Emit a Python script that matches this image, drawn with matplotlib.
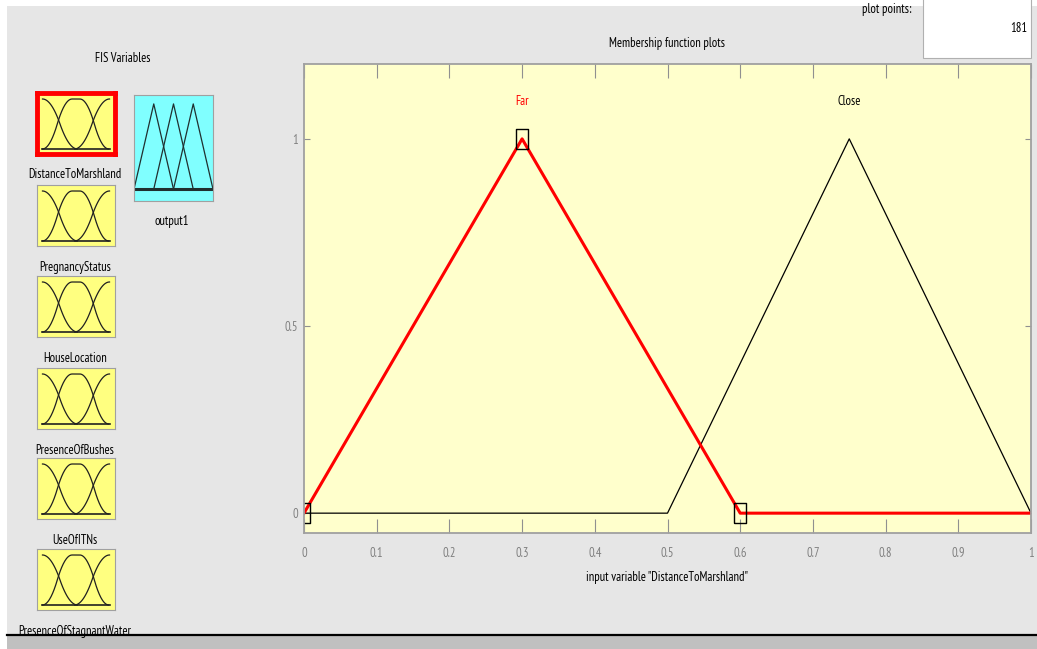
import numpy as np
import matplotlib.pyplot as plt
from matplotlib.patches import Rectangle

plt.rcParams['font.family'] = ['PT Sans Narrow', 'DejaVu Sans']
plt.rcParams['font.stretch'] = 'condensed'

# FIS data
input_names = ['DistanceToMarshland', 'PregnancyStatus', 'HouseLocation',
               'PresenceOfBushes', 'UseOfITNs', 'PresenceOfStagnantWater']
output_name = 'output1'
mf_names = ['Far', 'Close']
far_params = [0.0, 0.3, 0.6]
close_params = [0.5, 0.75, 1.0]
x_range = [0.0, 1.0]
plot_points = 181
# icon shapes (z / pi / s curves) for the input icons
icon_z = [0.07, 0.52]
icon_pi = [0.07, 0.45, 0.55, 0.92]
icon_s = [0.48, 0.93]
# output icon triangles
out_tris = [[0.0, 0.25, 0.5], [0.25, 0.5, 0.75], [0.5, 0.75, 1.0]]

W, H = 1037, 649
BG = '#e6e6e6'
FS = 9


def px(x0, y0, x1, y1):
    return [x0 / W, 1 - y1 / H, (x1 - x0) / W, (y1 - y0) / H]


def smf(x, a, b):
    m = (a + b) / 2
    return np.where(x <= a, 0, np.where(x <= m, 2 * ((x - a) / (b - a)) ** 2,
                    np.where(x <= b, 1 - 2 * ((x - b) / (b - a)) ** 2, 1)))


fig = plt.figure(figsize=(W / 100, H / 100), dpi=100, facecolor='white')

# background panel
bg = fig.add_axes([0, 0, 1, 1])
bg.set_xlim(0, W)
bg.set_ylim(H, 0)
bg.axis('off')
bg.add_patch(Rectangle((7, 6), W - 7, H - 6, facecolor=BG, edgecolor='none'))
bg.add_patch(Rectangle((7, 635), W - 7, 14, facecolor='#c0c0c0', edgecolor='none'))
bg.plot([7, W], [634.5, 634.5], color='black', lw=1.6)
bg.add_patch(Rectangle((923, -2), 108, 60, facecolor='white', edgecolor='#b0b0b0', lw=0.8))
bg.text(912, 9, 'plot points:', ha='right', va='center', fontsize=FS)
bg.text(1027, 29, str(plot_points), ha='right', va='center', fontsize=FS)
bg.text(123, 58, 'FIS Variables', ha='center', va='center', fontsize=FS)
bg.text(667, 44, 'Membership function plots', ha='center', va='center', fontsize=FS)
bg.text(667, 577, 'input variable "%s"' % input_names[0], ha='center', va='center', fontsize=FS)

# input icons
xs = np.linspace(0, 1, 200)
tops = [93, 185, 276, 368, 458, 549]
z = 1 - smf(xs, *icon_z)
pi = smf(xs, icon_pi[0], icon_pi[1]) * (1 - smf(xs, icon_pi[2], icon_pi[3]))
sc = smf(xs, *icon_s)
mz = (xs >= icon_z[0]) & (xs <= icon_z[1])
mp = (xs >= icon_pi[0]) & (xs <= icon_pi[3])
ms = (xs >= icon_s[0]) & (xs <= icon_s[1])
for i, name in enumerate(input_names):
    t = tops[i]
    ax = fig.add_axes(px(37, t, 115, t + 61))
    ax.set_facecolor('#ffff80')
    ax.set_xlim(0, 1)
    ax.set_ylim(-0.1, 1.12)
    ax.set_xticks([])
    ax.set_yticks([])
    for s in ax.spines.values():
        s.set_color('#a0a0a0')
    ax.plot(xs[mz], z[mz], color='#202020', lw=0.9)
    ax.plot(xs[mp], pi[mp], color='#202020', lw=0.9)
    ax.plot(xs[ms], sc[ms], color='#202020', lw=0.9)
    ax.plot([icon_z[0], icon_s[1]], [0, 0], color='#202020', lw=1.2)
    if i == 0:
        for s in ax.spines.values():
            s.set_color('#ff0000')
            s.set_linewidth(3.5)
    bg.text(75, t + 82, name, ha='center', va='center', fontsize=FS)

# output icon
ax = fig.add_axes(px(134, 95, 213, 201))
ax.set_facecolor('#80ffff')
ax.set_xlim(0, 1)
ax.set_ylim(-0.12, 0.95)
ax.set_xticks([])
ax.set_yticks([])
for s in ax.spines.values():
    s.set_color('#a0a0a0')
for tri in out_tris:
    ax.plot(tri, [0, 0.86, 0], color='#203030', lw=0.9)
ax.plot([0, 1], [0, 0], color='#203030', lw=2.2)
bg.text(172, 222, output_name, ha='center', va='center', fontsize=FS)

# main membership plot
ax = fig.add_axes(px(304, 64, 1031, 533))
ax.set_facecolor('#ffffcc')
far_x = [x_range[0]] + far_params + [x_range[1]]
far_y = [0, 0, 1, 0, 0]
close_x = [x_range[0]] + close_params + [x_range[1]]
close_y = [0, 0, 1, 0, 0]
ax.plot(close_x, close_y, color='black', lw=0.9)
ax.plot(far_x, far_y, color='red', lw=2.2)
box = [(-0.6, -1), (0.6, -1), (0.6, 1), (-0.6, 1), (-0.6, -1)]
ax.plot(far_params, [0, 1, 0], ls='none', marker=box, markersize=15,
        mfc='none', mec='black', mew=1.0)
ax.text(far_params[1], 1.10, mf_names[0], color='red', ha='center', va='center', fontsize=FS)
ax.text(close_params[1], 1.10, mf_names[1], color='black', ha='center', va='center', fontsize=FS)
ax.set_xlim(0, 1)
ax.set_ylim(-0.053, 1.2)
ax.set_xticks(np.arange(0, 1.01, 0.1))
ax.set_xticklabels(['0', '0.1', '0.2', '0.3', '0.4', '0.5', '0.6', '0.7', '0.8', '0.9', '1'])
ax.set_yticks([0, 0.5, 1])
ax.set_yticklabels(['0', '0.5', '1'])
ax.tick_params(axis='x', direction='in', length=10, top=True, color='#909090',
               labelcolor='#808080', labelsize=FS, pad=10)
ax.tick_params(axis='y', direction='in', length=4.5, right=True, color='#909090',
               labelcolor='#808080', labelsize=FS, pad=4)
for s in ax.spines.values():
    s.set_color('#a0a0a0')
    s.set_linewidth(1.3)

fig.savefig('out.png', dpi=100)
